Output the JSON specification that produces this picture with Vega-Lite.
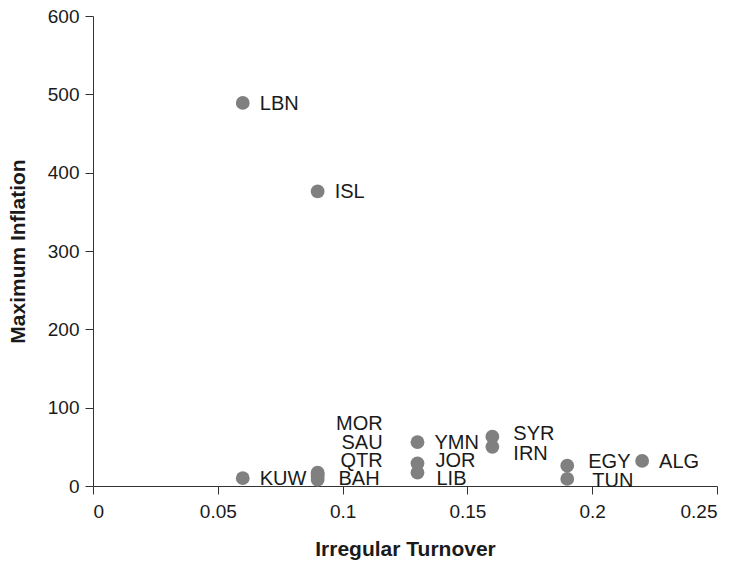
{
  "$schema": "https://vega.github.io/schema/vega-lite/v6.json",
  "autosize": "none",
  "width": 624,
  "height": 470,
  "padding": {"left": 93, "top": 16, "right": 25, "bottom": 78},
  "background": "white",
  "config": {
    "view": {"stroke": null},
    "font": "Liberation Sans",
    "axis": {
      "grid": false,
      "domainColor": "#333333",
      "tickColor": "#333333",
      "tickSize": 8,
      "labelFont": "Liberation Sans",
      "labelFontSize": 19,
      "labelColor": "#1a1a1a",
      "titleFont": "Liberation Sans",
      "titleFontSize": 21,
      "titleFontWeight": "bold",
      "titleColor": "#1a1a1a"
    }
  },
  "data": {
    "values": [
      {"country": "LBN", "turnover": 0.06, "inflation": 489},
      {"country": "ISL", "turnover": 0.09, "inflation": 376},
      {"country": "KUW", "turnover": 0.06, "inflation": 10},
      {"country": "MOR", "turnover": 0.09, "inflation": 17},
      {"country": "SAU", "turnover": 0.09, "inflation": 15},
      {"country": "QTR", "turnover": 0.09, "inflation": 12},
      {"country": "BAH", "turnover": 0.09, "inflation": 8},
      {"country": "YMN", "turnover": 0.13, "inflation": 56},
      {"country": "JOR", "turnover": 0.13, "inflation": 29},
      {"country": "LIB", "turnover": 0.13, "inflation": 17},
      {"country": "SYR", "turnover": 0.16, "inflation": 63},
      {"country": "IRN", "turnover": 0.16, "inflation": 50},
      {"country": "EGY", "turnover": 0.19, "inflation": 26},
      {"country": "TUN", "turnover": 0.19, "inflation": 9},
      {"country": "ALG", "turnover": 0.22, "inflation": 32}
    ]
  },
  "encoding": {
    "x": {
      "field": "turnover", "type": "quantitative",
      "scale": {"domain": [0, 0.25], "nice": false, "zero": true},
      "axis": {"title": "Irregular Turnover", "values": [0, 0.05, 0.1, 0.15, 0.2, 0.25], "format": "~g", "labelPadding": 8, "titlePadding": 17}
    },
    "y": {
      "field": "inflation", "type": "quantitative",
      "scale": {"domain": [0, 600], "nice": false},
      "axis": {"title": "Maximum Inflation", "values": [0, 100, 200, 300, 400, 500, 600], "labelPadding": 6, "titlePadding": 19}
    }
  },
  "layer": [
    {"mark": {"type": "circle", "size": 190, "color": "#808080", "opacity": 1}},
    {
      "transform": [{"filter": "indexof(['LBN','ISL','KUW','YMN','ALG'], datum.country) >= 0"}],
      "mark": {"type": "text", "align": "left", "baseline": "middle", "dx": 17, "dy": 1, "fontSize": 20, "color": "#1a1a1a"},
      "encoding": {"text": {"field": "country"}}
    },
    {
      "transform": [{"filter": "datum.country == 'MOR'"}],
      "mark": {"type": "text", "align": "right", "baseline": "middle", "dx": 65, "dy": -49, "fontSize": 20, "color": "#1a1a1a"},
      "encoding": {"text": {"field": "country"}}
    },
    {
      "transform": [{"filter": "datum.country == 'SAU'"}],
      "mark": {"type": "text", "align": "right", "baseline": "middle", "dx": 65, "dy": -31, "fontSize": 20, "color": "#1a1a1a"},
      "encoding": {"text": {"field": "country"}}
    },
    {
      "transform": [{"filter": "datum.country == 'QTR'"}],
      "mark": {"type": "text", "align": "right", "baseline": "middle", "dx": 65, "dy": -16, "fontSize": 20, "color": "#1a1a1a"},
      "encoding": {"text": {"field": "country"}}
    },
    {
      "transform": [{"filter": "datum.country == 'BAH'"}],
      "mark": {"type": "text", "align": "right", "baseline": "middle", "dx": 62, "dy": -1, "fontSize": 20, "color": "#1a1a1a"},
      "encoding": {"text": {"field": "country"}}
    },
    {
      "transform": [{"filter": "datum.country == 'JOR'"}],
      "mark": {"type": "text", "align": "left", "baseline": "middle", "dx": 18, "dy": -2, "fontSize": 20, "color": "#1a1a1a"},
      "encoding": {"text": {"field": "country"}}
    },
    {
      "transform": [{"filter": "datum.country == 'LIB'"}],
      "mark": {"type": "text", "align": "left", "baseline": "middle", "dx": 19, "dy": 6, "fontSize": 20, "color": "#1a1a1a"},
      "encoding": {"text": {"field": "country"}}
    },
    {
      "transform": [{"filter": "datum.country == 'SYR'"}],
      "mark": {"type": "text", "align": "left", "baseline": "middle", "dx": 21, "dy": -3, "fontSize": 20, "color": "#1a1a1a"},
      "encoding": {"text": {"field": "country"}}
    },
    {
      "transform": [{"filter": "datum.country == 'IRN'"}],
      "mark": {"type": "text", "align": "left", "baseline": "middle", "dx": 21, "dy": 7, "fontSize": 20, "color": "#1a1a1a"},
      "encoding": {"text": {"field": "country"}}
    },
    {
      "transform": [{"filter": "datum.country == 'EGY'"}],
      "mark": {"type": "text", "align": "left", "baseline": "middle", "dx": 21, "dy": -4, "fontSize": 20, "color": "#1a1a1a"},
      "encoding": {"text": {"field": "country"}}
    },
    {
      "transform": [{"filter": "datum.country == 'TUN'"}],
      "mark": {"type": "text", "align": "left", "baseline": "middle", "dx": 25, "dy": 2, "fontSize": 20, "color": "#1a1a1a"},
      "encoding": {"text": {"field": "country"}}
    }
  ]
}
